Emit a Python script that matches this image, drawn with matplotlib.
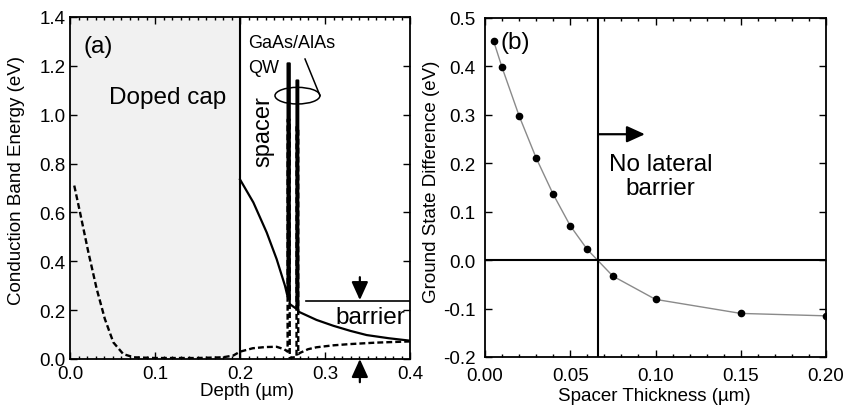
import numpy as np
import matplotlib
matplotlib.use('Agg')
import matplotlib.pyplot as plt
from matplotlib.patches import Ellipse
from matplotlib.ticker import MultipleLocator, FormatStrFormatter

plt.rcParams['font.family'] = ['Liberation Sans', 'DejaVu Sans']

# (a) conduction band profile, solid = with lateral barrier, dashed = without
solid_depth = [0.200, 0.2157, 0.2314, 0.2431, 0.2529, 0.2560, 0.2560, 0.2585, 0.2585,
               0.2665, 0.2665, 0.2685, 0.2685, 0.2706, 0.290, 0.3098, 0.330, 0.349, 0.375, 0.400]
solid_energy = [0.735, 0.641, 0.518, 0.409, 0.300, 0.255, 1.210, 1.210, 0.225,
                0.205, 1.140, 1.140, 0.195, 0.191, 0.160, 0.136, 0.115, 0.098, 0.085, 0.075]

dashed_depth = [0.005, 0.0118, 0.0216, 0.0314, 0.041, 0.051, 0.0627, 0.075, 0.10, 0.15,
                0.18, 0.192, 0.200, 0.215, 0.230, 0.243, 0.252, 0.2560, 0.2560, 0.2585,
                0.2585, 0.2665, 0.2665, 0.2685, 0.2685, 0.2706, 0.280, 0.290, 0.310, 0.329,
                0.360, 0.400]
dashed_energy = [0.710, 0.600, 0.437, 0.287, 0.164, 0.068, 0.020, 0.007, 0.004, 0.004,
                 0.007, 0.014, 0.030, 0.044, 0.049, 0.050, 0.040, 0.030, 0.980, 0.980,
                 0.005, 0.008, 0.950, 0.950, 0.020, 0.025, 0.040, 0.048, 0.056, 0.061,
                 0.067, 0.072]

cap_end = 0.2
barrier_level = 0.237
barrier_x = 0.341

# (b) ground state difference vs spacer thickness
spacer = [0.005, 0.01, 0.02, 0.03, 0.04, 0.05, 0.06, 0.075, 0.10, 0.15, 0.20]
gs_diff = [0.453, 0.398, 0.298, 0.211, 0.136, 0.071, 0.022, -0.033, -0.081, -0.110, -0.115]
crossing = 0.0665

W, H = 843, 410
fig = plt.figure(figsize=(W / 100, H / 100), dpi=100)

def px_axes(l, t, r, b):
    return fig.add_axes([l / W, 1 - b / H, (r - l) / W, (b - t) / H])

def style(ax, pad):
    ax.tick_params(which='both', direction='in', top=True, right=True, labelsize=13.5,
                   pad=pad, width=1)
    ax.tick_params(which='major', length=5)
    ax.tick_params(which='minor', length=2.5)
    for s in ax.spines.values():
        s.set_linewidth(1.3)

arrow = dict(arrowstyle='-|>,head_length=0.55,head_width=0.25', color='black', lw=1.6,
             mutation_scale=20, shrinkA=0, shrinkB=0)

# ---------- (a) ----------
ax1 = px_axes(70, 18, 410, 360)
ax1.axvspan(0, cap_end, color='#f1f1f1', zorder=0)
ax1.axvline(cap_end, color='black', lw=1.5)
ax1.plot(dashed_depth, dashed_energy, color='black', lw=1.7, dashes=(2.5, 1.3))
ax1.plot(solid_depth, solid_energy, color='black', lw=1.6)

ax1.plot([0.2776, 0.4], [barrier_level, barrier_level], color='black', lw=1.2)
ax1.annotate('', xy=(barrier_x, barrier_level + 0.004), xytext=(barrier_x, 0.335),
             arrowprops=arrow)
ax1.annotate('', xy=(barrier_x, 0.0), xytext=(barrier_x, -0.095),
             arrowprops=arrow, annotation_clip=False)

ax1.add_patch(Ellipse((0.2676, 1.078), 0.0529, 0.068, fill=False, lw=1.1, color='black'))
ax1.plot([0.2941, 0.2765], [1.078, 1.228], color='black', lw=1.1)

ax1.text(0.0153, 1.282, '(a)', fontsize=17.5, va='center')
ax1.text(0.1147, 1.071, 'Doped cap', fontsize=17.5, ha='center', va='center')
ax1.text(0.2094, 1.296, 'GaAs/AlAs', fontsize=13, va='center')
ax1.text(0.2094, 1.194, 'QW', fontsize=13, va='center')
ax1.text(0.2275, 0.934, 'spacer', fontsize=17, rotation=90, ha='center', va='center')
ax1.text(0.353, 0.170, 'barrier', fontsize=17.5, ha='center', va='center')

ax1.set_xlim(0, 0.4)
ax1.set_ylim(0, 1.4)
ax1.xaxis.set_major_locator(MultipleLocator(0.1))
ax1.xaxis.set_minor_locator(MultipleLocator(0.01))
ax1.yaxis.set_major_locator(MultipleLocator(0.2))
ax1.xaxis.set_major_formatter(FormatStrFormatter('%.1f'))
ax1.yaxis.set_major_formatter(FormatStrFormatter('%.1f'))
style(ax1, 3)
ax1.tick_params(axis='x', pad=4)
ax1.set_xlabel('Depth (µm)', fontsize=13.5)
ax1.set_ylabel('Conduction Band Energy (eV)', fontsize=13.5)
ax1.xaxis.set_label_coords(0.52, -0.066)
ax1.yaxis.set_label_coords(-0.132, 0.526)

# ---------- (b) ----------
ax2 = px_axes(485, 19, 826, 358)
ax2.plot(spacer, gs_diff, color='#8a8a8a', lw=1.0, zorder=2)
ax2.plot(spacer, gs_diff, 'o', color='black', ms=4.5, zorder=3)
ax2.axvline(crossing, color='black', lw=1.5)
ax2.axhline(0, color='black', lw=1.5)
ax2.annotate('', xy=(0.0938, 0.26), xytext=(crossing, 0.26), arrowprops=arrow)
ax2.text(0.103, 0.1744, 'No lateral\nbarrier', fontsize=17.5, ha='center', va='center',
         linespacing=1.1)
ax2.text(0.0088, 0.45, '(b)', fontsize=17.5, va='center')

ax2.set_xlim(0, 0.2)
ax2.set_ylim(-0.2, 0.5)
ax2.xaxis.set_major_locator(MultipleLocator(0.05))
ax2.xaxis.set_minor_locator(MultipleLocator(0.01))
ax2.yaxis.set_major_locator(MultipleLocator(0.1))
ax2.xaxis.set_major_formatter(FormatStrFormatter('%.2f'))
ax2.yaxis.set_major_formatter(FormatStrFormatter('%.1f'))
style(ax2, 7)
ax2.set_xlabel('Spacer Thickness (µm)', fontsize=13.5)
ax2.set_ylabel('Ground State Difference (eV)', fontsize=13.5)
ax2.xaxis.set_label_coords(0.496, -0.0885)
ax2.yaxis.set_label_coords(-0.132, 0.519)

plt.savefig('out.png', dpi=100)
